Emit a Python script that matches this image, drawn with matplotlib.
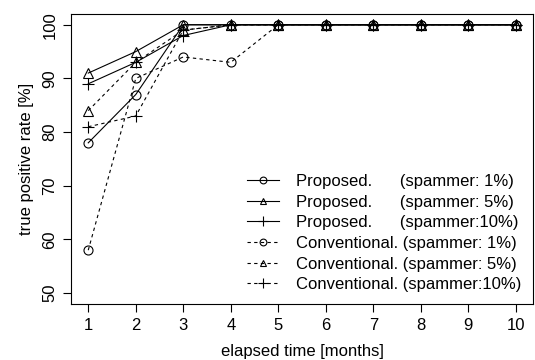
import matplotlib
matplotlib.use('Agg')
import matplotlib.pyplot as plt
import numpy as np

plt.rcParams['font.family'] = ['Liberation Sans', 'DejaVu Sans']

# elapsed months
months = [1, 2, 3, 4, 5, 6, 7, 8, 9, 10]

# true positive rates [%]
prop_1 = [78, 87, 100, 100, 100, 100, 100, 100, 100, 100]
prop_5 = [91, 95, 100, 100, 100, 100, 100, 100, 100, 100]
prop_10 = [89, 93, 98, 100, 100, 100, 100, 100, 100, 100]
conv_1 = [58, 90, 94, 93, 100, 100, 100, 100, 100, 100]
conv_5 = [84, 93, 99, 100, 100, 100, 100, 100, 100, 100]
conv_10 = [81, 83, 99, 100, 100, 100, 100, 100, 100, 100]

labels = [
    'Proposed.      (spammer: 1%)',
    'Proposed.      (spammer: 5%)',
    'Proposed.      (spammer:10%)',
    'Conventional. (spammer: 1%)',
    'Conventional. (spammer: 5%)',
    'Conventional. (spammer:10%)',
]

series = [prop_1, prop_5, prop_10, conv_1, conv_5, conv_10]
markers = ['o', '^', '+', 'o', '^', '+']
styles = ['-', '-', '-', '--', '--', '--']

fig = plt.figure(figsize=(5.35, 3.6), dpi=100)
ax = fig.add_axes([0.133, 0.156, 0.863, 0.805])

for vals, m, ls, lab in zip(series, markers, styles, labels):
    ax.plot(months, vals, color='black', linestyle=ls, linewidth=0.8,
            marker=m, markersize=9 if m == '+' else 6.5,
            markerfacecolor='none', markeredgecolor='black',
            markeredgewidth=0.8, dashes=(3, 3) if ls == '--' else (None, None),
            label=lab)

ax.set_xlim(0.64, 10.36)
ax.set_ylim(48, 102)
ax.set_xticks(months)
ax.set_yticks([50, 60, 70, 80, 90, 100])
ax.set_yticklabels(['50', '60', '70', '80', '90', '100'], rotation=90, va='center')
ax.tick_params(labelsize=12, length=6, width=0.8, pad=4)

for s in ax.spines.values():
    s.set_linewidth(0.8)

ax.set_xlabel('elapsed time [months]', fontsize=12, labelpad=8)
ax.set_ylabel('true positive rate [%]', fontsize=12, labelpad=6)

leg = ax.legend(loc='lower right', frameon=False, fontsize=12,
                handlelength=1.9, handletextpad=1.0, labelspacing=0.34,
                borderaxespad=0.3, markerscale=0.75)

fig.savefig('out.png', dpi=100)
